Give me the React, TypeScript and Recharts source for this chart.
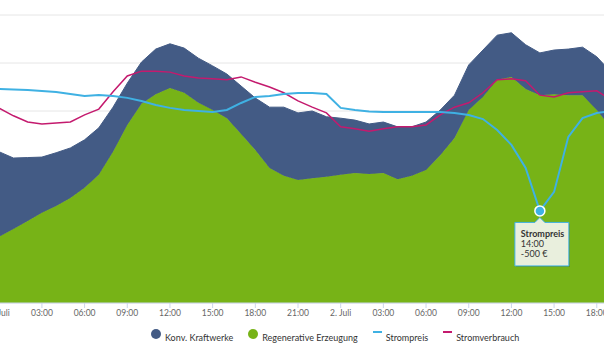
import {
  ComposedChart,
  Area,
  Line,
  XAxis,
  YAxis,
  CartesianGrid,
  Legend,
  ReferenceDot,
} from "recharts";

// Stunden ab 1. Juli 00:00
const hours = [
  -1, 0, 1, 2, 3, 4, 5, 6, 7, 8, 9, 10, 11, 12, 13, 14, 15, 16, 17, 18, 19, 20,
  21, 22, 23, 24, 25, 26, 27, 28, 29, 30, 31, 32, 33, 34, 35, 36, 37, 38, 39,
  40, 41, 42, 43,
];

// GW
const regenerative = [
  12.1, 13.8, 15.4, 17.1, 18.8, 20.2, 21.9, 24.0, 26.7, 31.5, 37.1, 41.5, 43.5,
  44.8, 43.8, 41.7, 40.2, 38.5, 35.2, 31.9, 28.1, 26.5, 25.6, 26.0, 26.3, 26.7,
  27.1, 26.9, 27.1, 25.8, 26.5, 27.7, 30.8, 34.4, 40.2, 42.9, 46.5, 47.1, 44.6,
  43.3, 43.5, 43.3, 43.3, 40.2, 36.5,
];
const konventionell = [
  20.2, 17.7, 14.8, 13.2, 11.6, 11.1, 10.4, 10.0, 9.8, 9.3, 8.7, 8.7, 9.4, 9.2,
  9.3, 9.3, 9.2, 9.2, 10.0, 10.8, 12.7, 14.3, 14.0, 14.0, 12.5, 11.8, 11.0,
  10.4, 10.6, 10.9, 10.2, 10.0, 9.4, 8.9, 9.4, 9.8, 9.3, 9.2, 9.2, 8.8, 9.2,
  9.6, 10.0, 11.1, 11.6,
];
const verbrauch = [
  42.3, 40.6, 39.0, 37.7, 37.3, 37.5, 37.7, 39.2, 40.4, 44.0, 47.3, 48.3, 48.3,
  48.1, 47.3, 46.9, 46.7, 46.5, 47.1, 46.0, 45.0, 43.8, 42.1, 40.8, 39.6, 36.7,
  36.3, 35.8, 36.3, 36.7, 36.7, 37.1, 39.2, 40.8, 41.7, 43.8, 46.5, 46.7, 46.3,
  43.3, 42.9, 43.8, 44.0, 44.2, 42.3,
];
// €/MWh
const preis = [
  122, 122, 120, 117, 112, 107, 97, 87, 92, 87, 77, 61, 41, 26, 15, 10, 5, 15,
  51, 82, 87, 97, 102, 102, 97, 26, 15, 8, 5, 5, 5, 5, 5, 0, -10, -31, -87,
  -163, -281, -500, -403, -122, -26, 0, 10,
];

const xTicks = [0, 3, 6, 9, 12, 15, 18, 21, 24, 27, 30, 33, 36, 39, 42];
const gwTicks = [0, 10, 20, 30, 40, 50, 60];

const C_KONV = "#435b85";
const C_REG = "#77b317";
const C_PREIS = "#3fb1e3";
const C_VERB = "#c41a6e";
const FONT = "Lato, 'Open Sans', sans-serif";

const data = hours.map((h, i) => ({
  h,
  reg: regenerative[i],
  konv: konventionell[i],
  verbrauch: verbrauch[i],
  preis: preis[i],
}));

const fmtHour = (h: number) => {
  const d = Math.floor(h / 24);
  const hh = ((h % 24) + 24) % 24;
  if (hh === 0) return `${d + 1}. Juli`;
  return `${String(hh).padStart(2, "0")}:00`;
};

// hervorgehobener Punkt (Tooltip): tiefster Strompreis
const minIdx = preis.indexOf(Math.min(...preis));
const tipHour = hours[minIdx];
const tipPrice = preis[minIdx];

function TipShape(props: any) {
  const { cx, cy } = props;
  const bx = cx - 25;
  const by = cy + 11.5;
  const bw = 54;
  const bh = 43.5;
  return (
    <g>
      <circle cx={cx} cy={cy} r={5} fill={C_PREIS} stroke="#fff" strokeWidth={1.5} />
      <rect x={bx + 1} y={by + 1} width={bw} height={bh} fill="rgba(0,0,0,0.18)" />
      <path
        d={`M${bx},${by} L${cx - 5},${by} L${cx},${by - 5} L${cx + 5},${by} L${bx + bw},${by} L${bx + bw},${by + bh} L${bx},${by + bh} Z`}
        fill="#e9efdd"
        stroke={C_PREIS}
        strokeWidth={1}
      />
      <text x={cx - 19} y={cy + 26.5} fontSize={9} fontWeight={700} fill="#333" fontFamily={FONT}>
        Strompreis
      </text>
      <text x={cx - 19} y={cy + 36.5} fontSize={9} fill="#333" fontFamily={FONT}>
        {fmtHour(tipHour)}
      </text>
      <text x={cx - 19} y={cy + 46} fontSize={9} fill="#333" fontFamily={FONT}>
        {`${tipPrice} €`}
      </text>
    </g>
  );
}

const legendItems = [
  { label: "Konv. Kraftwerke", color: C_KONV, kind: "dot" },
  { label: "Regenerative Erzeugung", color: C_REG, kind: "dot" },
  { label: "Strompreis", color: C_PREIS, kind: "line" },
  { label: "Stromverbrauch", color: C_VERB, kind: "line" },
];

function LegendContent() {
  return (
    <div
      style={{
        display: "flex",
        alignItems: "center",
        height: 25,
        paddingLeft: 166,
        fontFamily: FONT,
        fontSize: 9,
        color: "#333",
      }}
    >
      {legendItems.map((it) => (
        <div
          key={it.label}
          style={{ display: "flex", alignItems: "center", marginRight: 15 }}
        >
          {it.kind === "dot" ? (
            <span
              style={{
                width: 10,
                height: 10,
                borderRadius: 5,
                background: it.color,
                marginRight: 4,
                position: "relative",
                top: -6,
              }}
            />
          ) : (
            <span
              style={{
                width: 9,
                height: 2,
                background: it.color,
                marginRight: 4,
                position: "relative",
                top: -8,
              }}
            />
          )}
          <span style={{ position: "relative", top: -2 }}>{it.label}</span>
        </div>
      ))}
    </div>
  );
}

export default function App() {
  return (
    <div
      style={{
        position: "absolute",
        left: 0,
        top: 0,
        width: 604,
        height: 352,
        overflow: "hidden",
        background: "#fff",
      }}
    >
      <div style={{ position: "absolute", left: -15, top: 0 }}>
        <ComposedChart
          width={626}
          height={352}
          data={data}
          margin={{ top: 15, right: 0, bottom: 0, left: 0 }}
        >
          <CartesianGrid
            yAxisId="gw"
            vertical={false}
            stroke="#e6e6e6"
            strokeWidth={1}
          />
          <XAxis
            dataKey="h"
            type="number"
            domain={[-1, 43]}
            ticks={xTicks}
            tickFormatter={fmtHour}
            height={24}
            tickSize={5}
            tickMargin={2}
            stroke="#ccd6eb"
            tick={{ fontSize: 8.5, fill: "#666", fontFamily: FONT }}
            interval={0}
          />
          <YAxis yAxisId="gw" hide domain={[0, 60]} ticks={gwTicks} />
          <YAxis yAxisId="eur" hide domain={[-970, 500]} allowDataOverflow />
          <Area
            yAxisId="gw"
            type="linear"
            dataKey="reg"
            stackId="a"
            fill={C_REG}
            fillOpacity={1}
            stroke={C_REG}
            isAnimationActive={false}
          />
          <Area
            yAxisId="gw"
            type="linear"
            dataKey="konv"
            stackId="a"
            fill={C_KONV}
            fillOpacity={1}
            stroke={C_KONV}
            isAnimationActive={false}
          />
          <Line
            yAxisId="gw"
            type="linear"
            dataKey="verbrauch"
            stroke={C_VERB}
            strokeWidth={1.5}
            dot={false}
            isAnimationActive={false}
          />
          <Line
            yAxisId="eur"
            type="linear"
            dataKey="preis"
            stroke={C_PREIS}
            strokeWidth={2}
            dot={false}
            isAnimationActive={false}
          />
          <ReferenceDot
            yAxisId="eur"
            x={tipHour}
            y={tipPrice}
            r={5}
            shape={<TipShape />}
          />
          <Legend verticalAlign="bottom" height={25} content={<LegendContent />} />
        </ComposedChart>
      </div>
    </div>
  );
}
